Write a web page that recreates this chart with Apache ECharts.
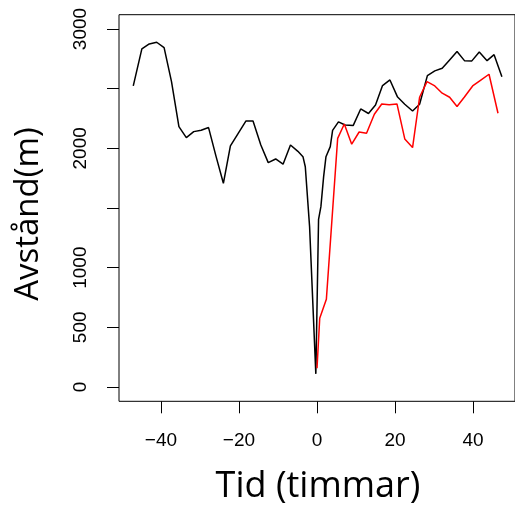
<!DOCTYPE html>
<html>
<head>
<meta charset="utf-8">
<script src="https://cdn.jsdelivr.net/npm/echarts@6/dist/echarts.min.js"></script>
<style>html,body{margin:0;padding:0;background:#fff;}#c{width:515px;height:506px;}</style>
</head>
<body>
<div id="c"></div>
<script>
const blackTime = [-47.1,-44.9,-43.0,-41.1,-39.2,-37.3,-35.4,-33.5,-31.6,-29.7,-27.8,-25.9,-24.0,-22.2,-20.2,-18.2,-16.4,-14.4,-12.5,-10.6,-8.7,-6.8,-4.9,-3.6,-3.0,-1.9,-0.3,0.4,1.0,1.7,2.3,2.8,3.4,4.0,5.5,7.2,9.3,11.2,13.2,15.0,16.8,18.7,20.6,22.5,24.5,26.3,28.3,30.2,32.1,34.0,35.9,37.8,39.7,41.6,43.6,45.4,47.4];
const blackDist = [2523,2833,2875,2889,2844,2559,2182,2090,2140,2152,2174,1935,1707,2020,2126,2230,2230,2028,1880,1911,1867,2028,1975,1930,1846,1344,110,1405,1511,1763,1930,1930,2014,2150,2222,2196,2192,2330,2292,2364,2526,2573,2433,2370,2313,2370,2609,2649,2671,2741,2811,2735,2733,2808,2735,2785,2601];
const redTime = [0.0,0.7,2.4,5.3,7.0,8.9,10.8,12.7,14.7,16.6,18.5,20.5,22.5,24.5,26.3,28.2,30.2,32.1,34.0,35.9,37.8,39.9,42.0,44.1,46.4];
const redDist = [157,576,735,2084,2204,2035,2137,2126,2286,2372,2366,2372,2079,2006,2428,2559,2523,2462,2428,2350,2430,2523,2572,2621,2294];
const xTicks = [-40,-20,0,20,40];
const yTicks = [0,500,1000,1500,2000,2500,3000];
const yLabels = [0,500,1000,2000,3000];
const xTitle = 'Tid (timmar)';
const yTitle = 'Avstånd(m)';

const pair = (xs, ys) => xs.map((x, i) => [x, ys[i]]);
const chart = echarts.init(document.getElementById('c'), null, {renderer: 'canvas'});
const tickFont = {fontFamily: 'Liberation Sans, Arial, sans-serif', fontSize: 19, color: '#000'};
chart.setOption({
  animation: false,
  grid: {left: 119, top: 14.7, width: 399, height: 386.6, show: true, borderColor: '#000', borderWidth: 1, backgroundColor: 'transparent'},
  graphic: [
    {type: 'text', x: 318, y: 469, style: {text: xTitle, fontFamily: 'Open Sans', fontSize: 36, fill: '#000', align: 'center', verticalAlign: 'top'}, z: 10},
    {type: 'text', rotation: Math.PI / 2, x: 12, y: 214, style: {text: yTitle, fontFamily: 'Open Sans', fontSize: 33, fill: '#000', align: 'center', verticalAlign: 'top'}, z: 10}
  ],
  xAxis: {
    type: 'value', min: -50.76, max: 50.76,
    axisLine: {show: false, onZero: false},
    axisTick: {show: true, length: 12, lineStyle: {color: '#000', width: 1}, customValues: xTicks},
    axisLabel: Object.assign({margin: 30, customValues: xTicks, formatter: v => String(v).replace('-', '\u2212')}, tickFont),
    splitLine: {show: false}
  },
  yAxis: {
    type: 'value', min: -120, max: 3120,
    axisLine: {show: false, onZero: false},
    axisTick: {show: true, length: 12, lineStyle: {color: '#000', width: 1}, customValues: yTicks},
    axisLabel: Object.assign({margin: 29, rotate: 90, customValues: yLabels, formatter: v => String(v)}, tickFont),
    splitLine: {show: false}
  },
  series: [
    {type: 'line', data: pair(blackTime, blackDist), showSymbol: false, lineStyle: {color: '#000', width: 1.5}, itemStyle: {color: '#000'}},
    {type: 'line', data: pair(redTime, redDist), showSymbol: false, lineStyle: {color: '#ff0000', width: 1.5}, itemStyle: {color: '#ff0000'}}
  ]
});
</script>
</body>
</html>
